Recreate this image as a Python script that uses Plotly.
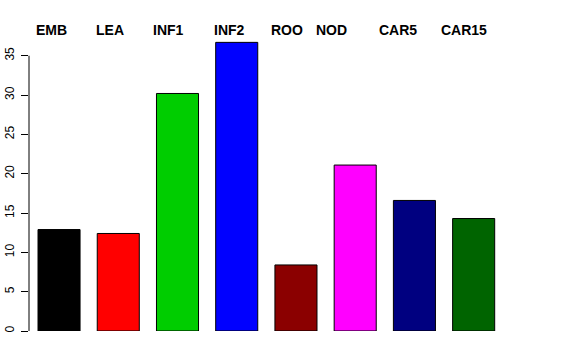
import plotly.graph_objects as go

categories = ["EMB", "LEA", "INF1", "INF2", "ROO", "NOD", "CAR5", "CAR15"]
values = [12.9, 12.4, 30.2, 36.7, 8.4, 21.1, 16.6, 14.3]
colors = ["#000000", "#FF0000", "#00CD00", "#0000FF", "#8B0000", "#FF00FF", "#000080", "#006400"]
label_shift = [-7.5, -8.5, -9, -7, -9, -23.5, -16.5, -10]
y_ticks = [0, 5, 10, 15, 20, 25, 30, 35]

W, H = 576, 360
left = 29
top = 40.3
bottom = H - 331
right = W - 540
label_y_page = 30

fig = go.Figure()
fig.add_trace(go.Bar(
    x=categories, y=values,
    marker=dict(color=colors, line=dict(color="#000000", width=1)),
    width=0.71,
))

plot_h = H - top - bottom
for cat, sh in zip(categories, label_shift):
    fig.add_annotation(
        x=cat, xref="x", y=1 + (top - label_y_page) / plot_h, yref="paper",
        yanchor="middle", xshift=sh, showarrow=False, text="<b>%s</b>" % cat,
        font=dict(family="Liberation Sans, Arial, sans-serif", size=14, color="black"),
    )

# y axis line spanning 0..35
fig.add_shape(type="line", xref="paper", x0=0, x1=0, yref="y", y0=0, y1=35,
              line=dict(color="black", width=1))

fig.update_layout(
    width=W, height=H,
    margin=dict(l=left, r=right, t=top, b=bottom, pad=0, autoexpand=False),
    paper_bgcolor="white", plot_bgcolor="white",
    showlegend=False,
    xaxis=dict(range=[-0.507, 7.5 + 0.62], showticklabels=False, showline=False,
               showgrid=False, zeroline=False, ticks="", automargin=False),
    yaxis=dict(range=[0, 37], tickvals=y_ticks, ticktext=[str(v) for v in y_ticks],
               ticks="outside", ticklen=7, tickcolor="black", tickwidth=1,
               tickangle=-90, showgrid=False, zeroline=False, showline=False,
               automargin=False, ticklabelstandoff=2,
               tickfont=dict(family="Liberation Sans, Arial, sans-serif", size=12, color="black")),
)

fig.write_html("out.html",
               config={"displayModeBar": False},
               post_script="document.body.style.margin='0';document.body.style.overflow='hidden';")
